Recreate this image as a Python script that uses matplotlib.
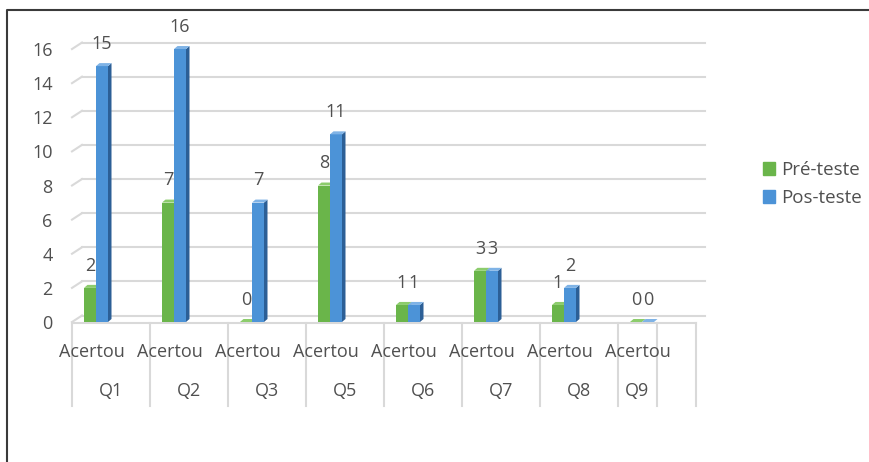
import numpy as np
import matplotlib
matplotlib.use("Agg")
import matplotlib.pyplot as plt
from matplotlib.patches import Polygon, Patch
from matplotlib.lines import Line2D

questions = ["Q1", "Q2", "Q3", "Q5", "Q6", "Q7", "Q8", "Q9"]
sub_label = "Acertou"
pre_teste = [2, 7, 0, 8, 1, 3, 1, 0]
pos_teste = [15, 16, 7, 11, 1, 3, 2, 0]
series_names = ["Pré-teste", "Pos-teste"]
y_ticks = [0, 2, 4, 6, 8, 10, 12, 14, 16]

GREEN = ("#6ab54a", "#3f7f2b", "#8ccc6c")
BLUE = ("#4c93d7", "#2c5f96", "#7fb3e6")
TEXT = "#505050"
GRID = "#d9d9d9"
FS = 13

plt.rcParams["font.family"] = ["Open Sans", "DejaVu Sans"]

W, H = 869, 462
PX_X = 78.0      # pixels per category
PX_Y = 17.06     # pixels per unit


def draw_bar(ax, x, w, v, colors):
    """Front face plus a darker side and a light top, like an Excel 3D column."""
    dx, dy = 3.5 / PX_X, 3 / PX_Y
    front, side, top = colors
    ax.bar(x, v, width=w, color=front, align="edge", zorder=3, linewidth=0)
    ax.add_patch(Polygon([(x + w, 0), (x + w + dx, dy), (x + w + dx, v + dy), (x + w, v)],
                         closed=True, color=side, zorder=3, lw=0))
    ax.add_patch(Polygon([(x, v), (x + dx, v + dy), (x + w + dx, v + dy), (x + w, v)],
                         closed=True, color=top, zorder=3, lw=0))


def plot_chart() -> None:
    """Rebuild the clustered 3D-like column chart."""
    fig = plt.figure(figsize=(W / 100, H / 100), dpi=100)
    ax = fig.add_axes([72 / W, (H - 322) / H, 624 / W, 17.5 * PX_Y / H])
    ax.set_xlim(-0.5, 7.5)
    ax.set_ylim(0, 17.5)
    for s in ax.spines.values():
        s.set_visible(False)
    ax.set_xticks([])
    ax.set_yticks(y_ticks)
    ax.tick_params(axis="y", length=0, pad=14, labelsize=FS, labelcolor=TEXT)

    # back wall gridlines with the little perspective ticks on the left
    bx, by = 10 / PX_X, 6.5 / PX_Y
    for t in y_ticks:
        ax.plot([-0.5 + bx, -0.5 + 633 / PX_X], [t + by, t + by], color=GRID,
                lw=1.5, zorder=1, clip_on=False)
        ax.plot([-0.5, -0.5 + bx], [t, t + by], color=GRID, lw=1.5, zorder=1,
                clip_on=False)

    w = 12 / PX_X
    x = np.arange(len(questions)) - 15 / PX_X
    for i in range(len(questions)):
        draw_bar(ax, x[i] - w, w, pre_teste[i], GREEN)
        draw_bar(ax, x[i], w, pos_teste[i], BLUE)
        for xx, v in ((x[i] - w / 2, pre_teste[i]), (x[i] + w / 2, pos_teste[i])):
            ax.annotate(str(v), (xx, v), xytext=(0, 16), textcoords="offset points",
                        ha="center", va="center", fontsize=FS, color=TEXT, zorder=4)

    # two-level category axis, the last category cell is split in half
    edges = list(np.arange(len(questions) + 1) - 0.5)
    edges.insert(-1, len(questions) - 1.0)
    y_top, y_bot = -1 / PX_Y, -84 / PX_Y
    for e in edges:
        ax.plot([e, e], [y_top, y_bot], color=GRID, lw=1.5, clip_on=False)
    ax.plot([edges[0], edges[-1]], [y_top, y_top], color=GRID, lw=1.5, clip_on=False)
    for i, q in enumerate(questions):
        c = (edges[i] + edges[i + 1]) / 2
        shift = 0.24 if edges[i + 1] - edges[i] == 1 else 0
        ax.text(c - shift, -30 / PX_Y, sub_label, ha="center", va="center",
                fontsize=FS, color=TEXT)
        ax.text(c, -69 / PX_Y, q, ha="center", va="center", fontsize=FS, color=TEXT)

    handles = [Patch(color=GREEN[0]), Patch(color=BLUE[0])]
    fig.legend(handles, series_names, loc="center left", frameon=False,
               bbox_to_anchor=(746 / W, 1 - 184 / H), fontsize=13.5,
               handlelength=0.65, handleheight=0.65, handletextpad=0.3,
               labelspacing=0.55, labelcolor=TEXT)

    fig.add_artist(Line2D([7 / W, 7 / W, 1], [0, 1 - 10 / H, 1 - 10 / H],
                          transform=fig.transFigure, color="#3a3a3a", lw=1.5))
    fig.savefig("out.png", dpi=100, facecolor="white")


def main():
    """Main entry for the program."""
    plot_chart()


if __name__ == "__main__":
    main()
